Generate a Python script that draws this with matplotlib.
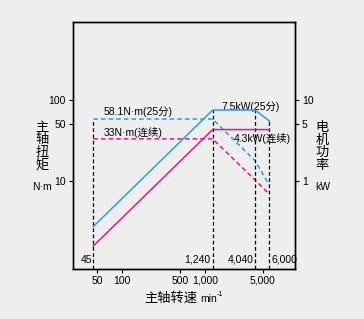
import numpy as np
import matplotlib
matplotlib.use("Agg")
from matplotlib import pyplot as plt

plt.rcParams['font.family'] = ['Liberation Sans', 'Noto Sans CJK SC']

# speed points (min^-1)
speed = [45, 1240, 4040, 6000]
# 25 min rating
torque_25 = [58.1, 58.1, 17.7, 8.8]     # N·m
power_25 = [0.27, 7.5, 7.5, 5.5]        # kW
# continuous rating
torque_cont = [33, 33, 10.2, 6.8]       # N·m
power_cont = [0.155, 4.3, 4.3, 4.3]     # kW

xticks = [50, 100, 500, 1000, 5000]
xticklabels = ['50', '100', '500', '1,000', '5,000']
speed_labels = ['45', '1,240', '4,040', '6,000']

blue = '#2a9ee3'
pink = '#e8177d'
bg = '#eeeeee'

fig = plt.figure(figsize=(3.64, 3.19), dpi=100, facecolor=bg)
ax = fig.add_axes([73/364, 1 - 269/319, 222/364, 247/319])
ax.set_facecolor(bg)
ax.set_xscale('log')
ax.set_yscale('log')
ax.set_xlim(25.6, 12250)
ax.set_ylim(0.805, 926)

ax2 = ax.twinx()
ax2.set_yscale('log')
ax2.set_ylim(0.0805, 92.6)

# power curves (right axis)
ax2.plot(speed, power_25, color=blue, lw=1.1)
ax2.plot(speed, power_cont, color=pink, lw=1.1)
# torque curves (left axis)
ax.plot(speed, torque_25, color=blue, lw=1.1, ls=(0, (3, 2)))
ax.plot(speed, torque_cont, color=pink, lw=1.1, ls=(0, (3, 2)))

# vertical guides
tops = [torque_25[0], power_25[1] * 10, power_25[2] * 10, power_25[3] * 10]
for s, t in zip(speed, tops):
    ax.plot([s, s], [0.805, t], color='black', lw=0.9, ls=(0, (3, 2)))

fs = 7.5
ax.text(44, 1.05, speed_labels[0], ha='right', va='center', fontsize=fs)
ax.text(1180, 1.05, speed_labels[1], ha='right', va='center', fontsize=fs)
ax.text(3850, 1.05, speed_labels[2], ha='right', va='center', fontsize=fs)
ax.text(6400, 1.05, speed_labels[3], ha='left', va='center', fontsize=fs)

ax.text(60, 72, '58.1N·m(25分)', fontsize=fs, va='center')
ax.text(60, 40, '33N·m(连续)', fontsize=fs, va='center')
ax.text(1600, 83, '7.5kW(25分)', fontsize=fs, va='center')
ax.text(2240, 33, '4.3kW(连续)', fontsize=fs, va='center')

ax.set_xticks(xticks)
ax.set_xticklabels(xticklabels, fontsize=fs)
ax.xaxis.set_minor_locator(matplotlib.ticker.NullLocator())
ax.set_yticks([10, 50, 100])
ax.set_yticklabels(['10', '50', '100'], fontsize=fs)
ax.yaxis.set_minor_locator(matplotlib.ticker.NullLocator())
ax2.set_yticks([1, 5, 10])
ax2.set_yticklabels(['1', '5', '10'], fontsize=fs)
ax2.yaxis.set_minor_locator(matplotlib.ticker.NullLocator())
for a in (ax, ax2):
    a.tick_params(length=3, width=0.8, pad=2)
    for sp in a.spines.values():
        sp.set_linewidth(1.0)

fig.text(42/364, 1 - 147/319, '主\n轴\n扭\n矩', ha='center', va='center',
         fontsize=9.5, linespacing=1.05)
fig.text(42/364, 1 - 187/319, 'N·m', ha='center', va='center', fontsize=fs)
fig.text(322/364, 1 - 147/319, '电\n机\n功\n率', ha='center', va='center',
         fontsize=9.5, linespacing=1.05)
fig.text(323/364, 1 - 187/319, 'kW', ha='center', va='center', fontsize=fs)
# x label: Chinese part, "min" and superscript as separate texts
fig.text(197/364, 1 - 298/319, '主轴转速', ha='right', va='center', fontsize=9.5)
fig.text(200/364, 1 - 299/319, 'min', ha='left', va='center', fontsize=fs)
fig.text(217/364, 1 - 294/319, '-1', ha='left', va='center', fontsize=5)

fig.savefig('out.png', dpi=100, facecolor=bg)
